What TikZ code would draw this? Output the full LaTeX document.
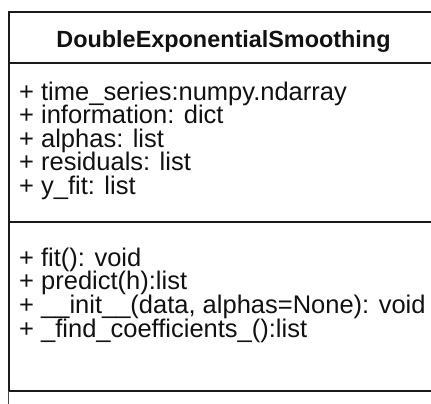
\documentclass[tikz,border=0pt]{standalone}
\usepackage{fontspec}
\setmainfont{Liberation Sans}
\usetikzlibrary{positioning}
\definecolor{cLine}{HTML}{1a1a1a}
\definecolor{cText}{HTML}{111111}
\tikzset{
  classtitle/.style={font=\fontsize{23.4}{23.5}\selectfont\bfseries,text=cText,
              inner sep=0pt,anchor=base},
  member/.style={font=\fontsize{25.5}{23.5}\selectfont,text=cText,
              inner sep=0pt,anchor=base west},
  frame/.style={draw=cLine,line width=2pt},
  stub/.style={draw=cLine!80,line width=1pt},
}

\begin{document}
\begin{tikzpicture}[x=1pt,y=-1pt]
  \useasboundingbox (0,0) rectangle (431,404);
  \clip (0,0) rectangle (431,404);
  % class box, cut by the right edge of the picture
  \coordinate (tl) at (8.5,12);
  \coordinate (br) at (438,391);
  \coordinate (t1) at (8.5,63);  \coordinate (t2) at (438,63);
  \coordinate (s1) at (8.5,222); \coordinate (s2) at (438,222);
  \coordinate (stubend) at (8.5,404);
  \draw[frame] (tl) rectangle (br);
  \draw[frame] (t1) -- (t2);
  \draw[frame] (s1) -- (s2);
  \draw[stub] (tl |- br) -- (stubend);
  % name
  \node[classtitle] (title) at (223.5,47.7) {DoubleExponentialSmoothing};
  % attributes
  \foreach \txt [count=\i] in {{time\_series:numpy.ndarray},{information: dict},
      {alphas: list},{residuals: list},{y\_fit: list}}
    \node[member] (a\i) at (19,{100+23.5*(\i-1)}) {+ \txt};
  % operations
  \foreach \txt [count=\i] in {{fit(): void},{predict(h):list},
      {\_\_init\_\_(data, alphas=None): void},{\_find\_coefficients\_():list}}
    \node[member] (m\i) at (19,{266+23.8*(\i-1)}) {+ \txt};
\end{tikzpicture}
\end{document}
